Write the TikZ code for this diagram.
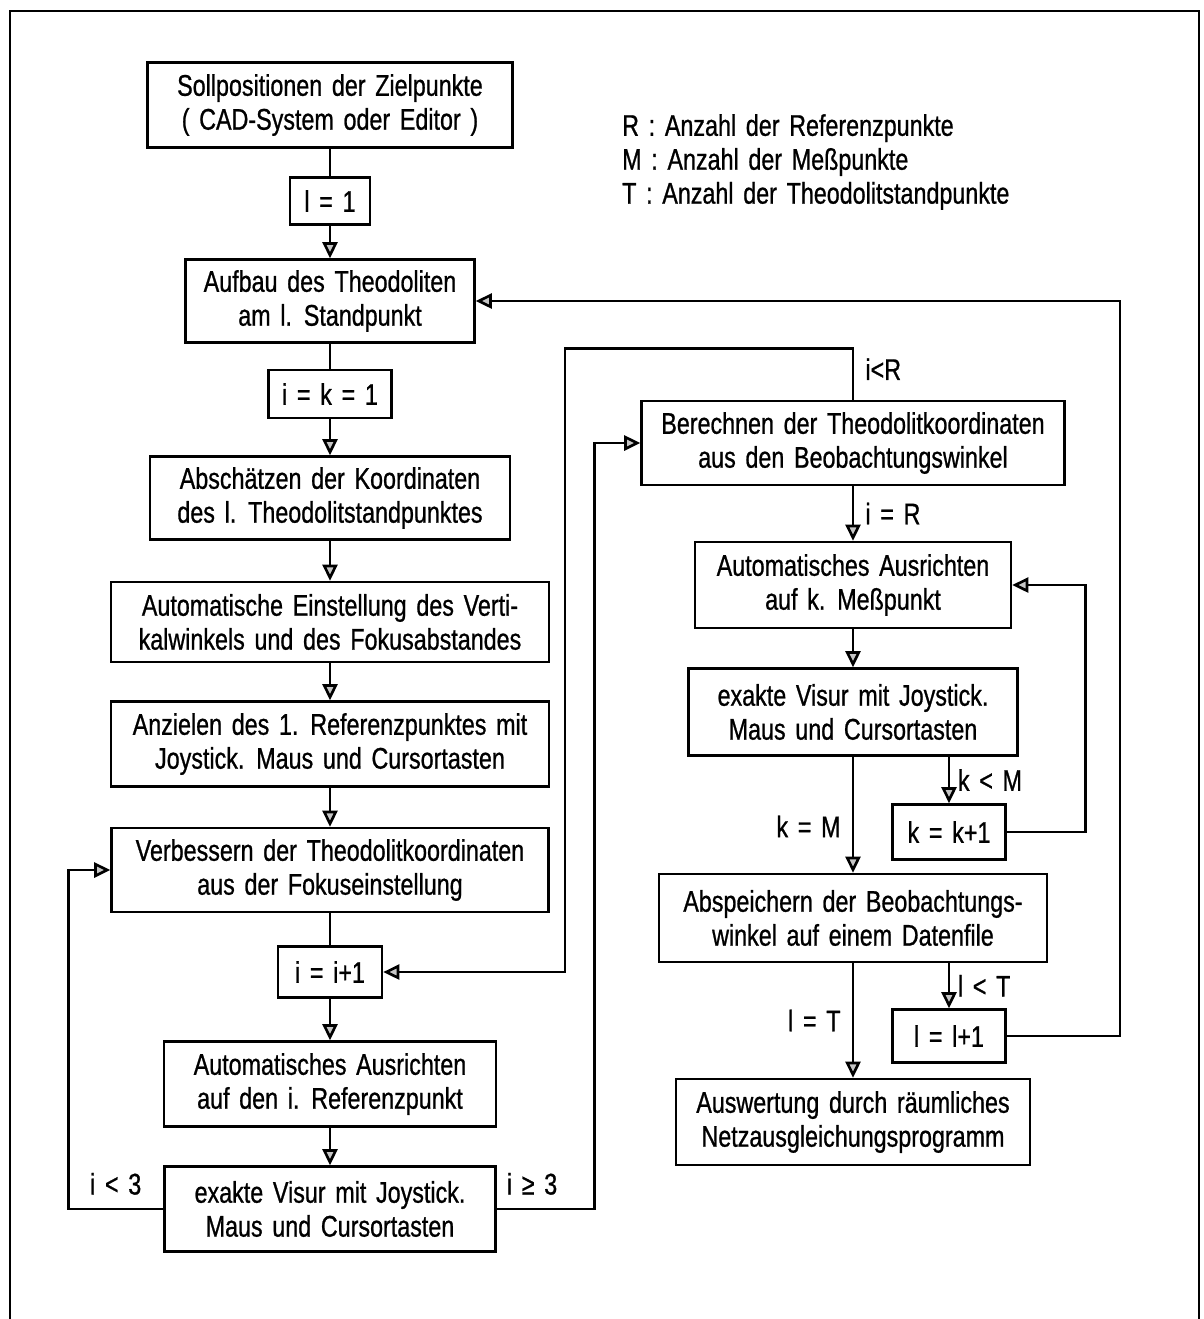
\documentclass[tikz,border=0pt]{standalone}
\usepackage{fontspec}
\setmainfont{Liberation Sans}[FakeStretch=0.78,WordSpace=1.5,FakeBold=0.8]
\usetikzlibrary{arrows.meta}

\tikzset{
  box/.style={draw, line width=1.5pt, align=center, inner sep=2pt},
  link/.style={line width=1.5pt},
  flow/.style={line width=1.5pt, -{Triangle[length=0.32cm, width=0.3cm, fill=gray!45]}},
}

\begin{document}
\begin{tikzpicture}[x=0.02cm, y=-0.02cm, font=\fontsize{17}{19.3}\selectfont]

        % page, pixel grid with y going down
        \useasboundingbox (0,0) rectangle (1204,1319);
        \draw[link] (10,1319) -- (10,11) -- (1199,11) -- (1199,1319);

        % Legend
        \node[anchor=west, align=left] (legende) at (616,162) {R : Anzahl der Referenzpunkte\\M : Anzahl der Meßpunkte\\T : Anzahl der Theodolitstandpunkte};

        % Left column
        \node[box, minimum width=7.3cm, minimum height=1.7cm] (soll) at (330,105) {Sollpositionen der Zielpunkte\\( CAD-System oder Editor )};
        \node[box, minimum width=1.6cm, minimum height=0.94cm] (lone) at (330,201) {l = 1};
        \node[box, minimum width=5.78cm, minimum height=1.66cm] (aufbau) at (330,301) {Aufbau des Theodoliten\\am l. Standpunkt};
        \node[box, minimum width=2.46cm, minimum height=0.96cm] (ikone) at (330,394) {i = k = 1};
        \node[box, minimum width=7.2cm, minimum height=1.66cm] (absch) at (330,498) {Abschätzen der Koordinaten\\des l. Theodolitstandpunktes};
        \node[box, minimum width=8.76cm, minimum height=1.6cm] (einst) at (330,622) {Automatische Einstellung des Verti-\\kalwinkels und des Fokusabstandes};
        \node[box, minimum width=8.76cm, minimum height=1.7cm] (anziel) at (330,744) {Anzielen des 1. Referenzpunktes mit\\Joystick. Maus und Cursortasten};
        \node[box, minimum width=8.74cm, minimum height=1.68cm] (verb) at (330,870) {Verbessern der Theodolitkoordinaten\\aus der Fokuseinstellung};
        \node[box, minimum width=2.08cm, minimum height=1.02cm] (iinc) at (330,972) {i = i+1};
        \node[box, minimum width=6.64cm, minimum height=1.7cm] (ausri) at (330,1084) {Automatisches Ausrichten\\auf den i. Referenzpunkt};
        \node[box, minimum width=6.62cm, minimum height=1.7cm] (visuri) at (330,1209) {exakte Visur mit Joystick.\\Maus und Cursortasten};

        % Right column
        \node[box, minimum width=8.46cm, minimum height=1.68cm] (berech) at (853,443) {Berechnen der Theodolitkoordinaten\\aus den Beobachtungswinkel};
        \node[box, minimum width=6.32cm, minimum height=1.72cm] (ausrk) at (853,585) {Automatisches Ausrichten\\auf k. Meßpunkt};
        \node[box, minimum width=6.58cm, minimum height=1.74cm] (visurk) at (853,712) {exakte Visur mit Joystick.\\Maus und Cursortasten};
        \node[box, minimum width=2.26cm, minimum height=1.1cm] (kinc) at (949,832) {k = k+1};
        \node[box, minimum width=7.76cm, minimum height=1.76cm] (absp) at (853,918) {Abspeichern der Beobachtungs-\\winkel auf einem Datenfile};
        \node[box, minimum width=2.26cm, minimum height=1.06cm] (linc) at (949,1036) {l = l+1};
        \node[box, minimum width=7.08cm, minimum height=1.72cm] (ausw) at (853,1122) {Auswertung durch räumliches\\Netzausgleichungsprogramm};

        % Left column flow
        \draw[link] (soll) -- (lone);
        \draw[flow] (lone) -- (aufbau);
        \draw[link] (aufbau) -- (ikone);
        \draw[flow] (ikone) -- (absch);
        \draw[flow] (absch) -- (einst);
        \draw[flow] (einst) -- (anziel);
        \draw[flow] (anziel) -- (verb);
        \draw[link] (verb) -- (iinc);
        \draw[flow] (iinc) -- (ausri);
        \draw[flow] (ausri) -- (visuri);

        % Loops over the reference points
        \draw[flow] (visuri.west) -- node[above=4pt] {i < 3} ++(-95,0) |- (verb.west);
        \draw[flow] (visuri.east) -- node[above=4pt, pos=0.36] {i ≥ 3} ++(98,0) |- (berech.west);
        \draw[flow] (berech.north) -- node[right=3pt, pos=0.6] {i<R} ++(0,-51) -- ++(-288,0) |- (iinc.east);

        % Right column flow
        \draw[flow] (berech) -- node[right=3pt] {i = R} (ausrk);
        \draw[flow] (ausrk) -- (visurk);
        \draw[flow] (visurk) -- node[left=3pt, pos=0.6] {k = M} (absp);
        \draw[flow] (kinc.north |- visurk.south) -- node[right=1pt] {k < M} (kinc.north);
        \draw[flow] (kinc.east) -- ++(79,0) |- (ausrk.east);
        \draw[flow] (absp) -- node[left=3pt] {l = T} (ausw);
        \draw[flow] (linc.north |- absp.south) -- node[right=1pt] {l < T} (linc.north);

        % Back to the next standpoint
        \draw[flow] (linc.east) -- ++(113,0) |- (aufbau.east);

\end{tikzpicture}
\end{document}
